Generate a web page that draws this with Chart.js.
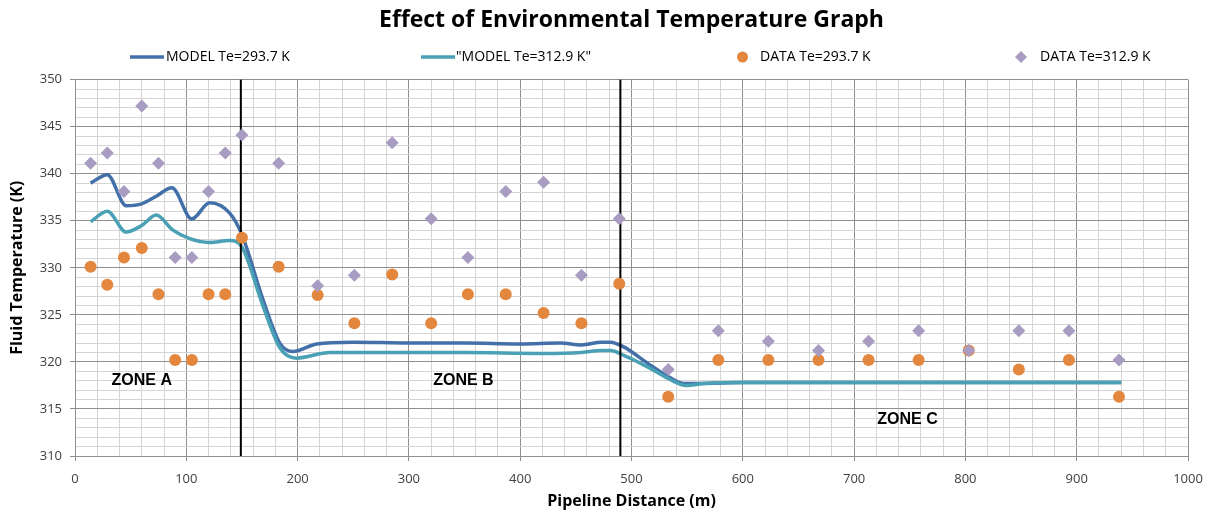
<!DOCTYPE html>
<html>
<head>
<meta charset="utf-8">
<script src="https://cdn.jsdelivr.net/npm/chart.js@4.4.0/dist/chart.umd.min.js"></script>
<style>
  html, body { margin: 0; padding: 0; background: #fff; }
  #wrap { width: 1222px; height: 515px; }
</style>
</head>
<body>
<div id="wrap"><canvas id="grafico"></canvas></div>
<script>
// Medições (distância em m, temperatura em K)
const distDados = [14, 29, 44, 60, 75, 90, 105, 120, 135, 150, 183, 218, 251, 285, 320, 353, 387, 421, 455, 489, 533, 578, 623, 668, 713, 758, 803, 848, 893, 938];
const dados2937 = [330.1, 328.2, 331.1, 332.1, 327.2, 320.2, 320.2, 327.2, 327.2, 333.2, 330.1, 327.1, 324.1, 329.3, 324.1, 327.2, 327.2, 325.2, 324.1, 328.3, 316.3, 320.2, 320.2, 320.2, 320.2, 320.2, 321.2, 319.2, 320.2, 316.3];
const dados3129 = [341.1, 342.2, 338.1, 347.2, 341.1, 331.1, 331.1, 338.1, 342.2, 344.1, 341.1, 328.1, 329.2, 343.3, 335.2, 331.1, 338.1, 339.1, 329.2, 335.2, 319.2, 323.3, 322.2, 321.2, 322.2, 323.3, 321.2, 323.3, 323.3, 320.2];

// Curvas do modelo
const distModelo2937 = [14, 29, 46, 60, 73, 87, 105, 121, 139, 150, 169, 184, 196, 217, 250, 300, 350, 400, 436, 455, 473, 481, 493, 514, 535, 547, 560, 600, 700, 800, 900, 940];
const modelo2937 = [339.0, 339.9, 336.6, 336.8, 337.6, 338.5, 335.2, 336.9, 335.8, 333.5, 326.6, 322.0, 321.1, 321.9, 322.1, 322.0, 322.0, 321.9, 322.0, 321.8, 322.1, 322.1, 321.6, 319.9, 318.3, 317.7, 317.7, 317.8, 317.8, 317.8, 317.8, 317.8];
const distModelo3129 = [14, 29, 46, 60, 73, 88, 103, 121, 139, 150, 169, 184, 199, 229, 300, 350, 420, 455, 473, 481, 493, 514, 535, 549, 565, 600, 700, 800, 900, 940];
const modelo3129 = [334.9, 336.0, 333.8, 334.5, 335.6, 334.0, 333.1, 332.7, 332.9, 332.2, 325.9, 321.5, 320.4, 321.0, 321.0, 321.0, 320.9, 321.0, 321.2, 321.2, 320.7, 319.5, 318.1, 317.5, 317.7, 317.8, 317.8, 317.8, 317.8, 317.8];

// Zonas
const limitesZona = [149, 490];
const nomesZona = ['ZONE A', 'ZONE B', 'ZONE C'];
const zonaX = [60, 349, 748];
const zonaY = [318, 318, 313.9];

const eixoX = { min: 0, max: 1000, passo: 20, rotulo: 100 };
const eixoY = { min: 310, max: 350, passo: 1, rotulo: 5 };

const pares = (xs, ys) => xs.map((x, i) => ({ x: x, y: ys[i] }));

const fonte = "'Open Sans', 'Liberation Sans', sans-serif";

const linhasZona = limitesZona.map(x => ({
    type: 'line',
    label: '',
    data: [{ x: x, y: eixoY.min }, { x: x, y: eixoY.max }],
    borderColor: '#000',
    borderWidth: 2,
    pointRadius: 0,
    tension: 0,
    order: 2
}));

const textoZonas = {
    id: 'textoZonas',
    afterDatasetsDraw(chart) {
        const ctx = chart.ctx;
        const sx = chart.scales.x, sy = chart.scales.y;
        ctx.save();
        ctx.font = "bold 16px 'Liberation Sans', Arial, sans-serif";
        ctx.fillStyle = '#000';
        ctx.textAlign = 'center';
        ctx.textBaseline = 'middle';
        nomesZona.forEach((nome, i) => {
            ctx.fillText(nome, sx.getPixelForValue(zonaX[i]), sy.getPixelForValue(zonaY[i]));
        });
        ctx.restore();
    }
};

// Legenda espalhada como no Excel
const legendaPos = [130, 421, 737, 1015];
const legendaLarg = [34, 34, 11, 12];
const legendaGap = [2, 1, 12, 13];
const legendaExcel = {
    id: 'legendaExcel',
    afterDraw(chart) {
        const ctx = chart.ctx;
        const y = 57;
        const itens = chart.data.datasets.filter(d => d.label !== '');
        ctx.save();
        ctx.font = "14px 'Open Sans', sans-serif";
        ctx.textBaseline = 'middle';
        ctx.textAlign = 'left';
        itens.forEach((d, i) => {
            const x0 = legendaPos[i];
            const w = legendaLarg[i];
            const cor = d.borderColor;
            if (d.pointStyle === 'line') {
                ctx.strokeStyle = cor;
                ctx.lineWidth = 3.5;
                ctx.beginPath();
                ctx.moveTo(x0, y);
                ctx.lineTo(x0 + w, y);
                ctx.stroke();
            } else if (d.pointStyle === 'circle') {
                ctx.fillStyle = cor;
                ctx.beginPath();
                ctx.arc(x0 + w / 2, y, w / 2, 0, Math.PI * 2);
                ctx.fill();
            } else {
                ctx.fillStyle = cor;
                ctx.beginPath();
                ctx.moveTo(x0 + w / 2, y - w / 2);
                ctx.lineTo(x0 + w, y);
                ctx.lineTo(x0 + w / 2, y + w / 2);
                ctx.lineTo(x0, y);
                ctx.closePath();
                ctx.fill();
            }
            ctx.fillStyle = '#000';
            ctx.fillText(d.label, x0 + w + legendaGap[i], y);
        });
        ctx.restore();
    }
};

const corGrade = (passoRotulo) => (c) => (c.tick && Math.abs(c.tick.value % passoRotulo) < 1e-6) ? '#8f8f8f' : '#d4d4d4';
const corTick = (passoRotulo) => (c) => (c.tick && Math.abs(c.tick.value % passoRotulo) < 1e-6) ? '#8f8f8f' : 'rgba(0,0,0,0)';

new Chart(document.getElementById('grafico').getContext('2d'), {
    type: 'line',
    data: {
        datasets: [
            {
                label: 'MODEL Te=293.7 K',
                data: pares(distModelo2937, modelo2937),
                borderColor: '#4470a9',
                backgroundColor: '#4470a9',
                borderWidth: 3.5,
                pointRadius: 0,
                pointStyle: 'line',
                cubicInterpolationMode: 'monotone',
                order: 4
            },
            {
                label: '"MODEL Te=312.9 K"',
                data: pares(distModelo3129, modelo3129),
                borderColor: '#4aa0b5',
                backgroundColor: '#4aa0b5',
                borderWidth: 3.5,
                pointRadius: 0,
                pointStyle: 'line',
                cubicInterpolationMode: 'monotone',
                order: 3
            },
            {
                label: 'DATA Te=293.7 K',
                data: pares(distDados, dados2937),
                showLine: false,
                pointStyle: 'circle',
                pointRadius: 6,
                pointBackgroundColor: '#e3873e',
                pointBorderWidth: 0,
                backgroundColor: '#e3873e',
                borderColor: '#e3873e',
                borderWidth: 0,
                order: 1
            },
            {
                label: 'DATA Te=312.9 K',
                data: pares(distDados, dados3129),
                showLine: false,
                pointStyle: 'rectRot',
                pointRadius: 6.5,
                pointBackgroundColor: '#a99cc2',
                pointBorderWidth: 0,
                backgroundColor: '#a99cc2',
                borderColor: '#a99cc2',
                borderWidth: 0,
                order: 0
            },
            ...linhasZona
        ]
    },
    options: {
        responsive: true,
        maintainAspectRatio: false,
        animation: false,
        layout: { padding: { left: 0, right: 34, top: 5, bottom: 0 } },
        plugins: {
            tooltip: { enabled: false },
            legend: { display: false },
            title: {
                display: true,
                fullSize: false,
                text: 'Effect of Environmental Temperature Graph',
                color: '#000',
                font: { family: fonte, size: 23, weight: 'bold' },
                padding: { top: 2, bottom: 45 }
            }
        },
        scales: {
            x: {
                type: 'linear',
                min: eixoX.min,
                max: eixoX.max,
                afterFit: s => { s.height = 59; },
                ticks: {
                    stepSize: eixoX.passo,
                    autoSkip: false,
                    maxRotation: 0,
                    padding: 10,
                    color: '#404040',
                    font: { family: fonte, size: 13 },
                    callback: v => (v % eixoX.rotulo === 0 ? v : '')
                },
                grid: { color: corGrade(eixoX.rotulo), tickColor: corTick(eixoX.rotulo), tickLength: 5 },
                border: { color: '#8f8f8f' },
                title: {
                    display: true,
                    text: 'Pipeline Distance (m)',
                    color: '#000',
                    font: { family: fonte, size: 16, weight: 'bold' },
                    padding: { top: 0 }
                }
            },
            y: {
                min: eixoY.min,
                max: eixoY.max,
                afterFit: s => { s.width = 75; },
                ticks: {
                    stepSize: eixoY.passo,
                    autoSkip: false,
                    padding: 8,
                    color: '#404040',
                    font: { family: fonte, size: 13 },
                    callback: v => (v % eixoY.rotulo === 0 ? v : '')
                },
                grid: { color: corGrade(eixoY.rotulo), tickColor: corTick(eixoY.rotulo), tickLength: 5 },
                border: { color: '#8f8f8f' },
                title: {
                    display: true,
                    text: 'Fluid Temperature (K)',
                    color: '#000',
                    font: { family: fonte, size: 16, weight: 'bold' },
                    padding: { top: 8, bottom: 0 }
                }
            }
        }
    },
    plugins: [textoZonas, legendaExcel]
});
</script>
</body>
</html>
